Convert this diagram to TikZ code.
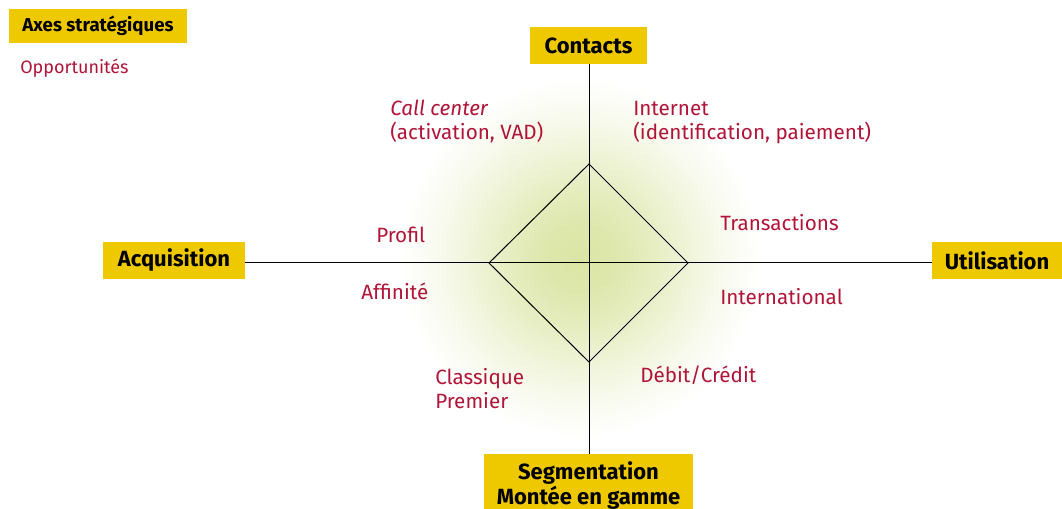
\documentclass[tikz,border=0pt]{standalone}
\usepackage{fontspec}
\setmainfont{Fira Sans}
\definecolor{boxyellow}{RGB}{239,201,0}
\definecolor{oppred}{RGB}{176,20,56}
\definecolor{glowc}{RGB}{218,229,164}
% soft radial glow, fading to white at the rim of the shaded circle
\pgfdeclareradialshading{softglow}{\pgfpoint{0bp}{0bp}}{%
  color(0bp)=(glowc); color(5bp)=(glowc!90!white); color(10bp)=(glowc!68!white);
  color(15bp)=(glowc!42!white); color(20bp)=(glowc!18!white);
  color(25bp)=(white); color(50bp)=(white)}
\begin{document}
\begin{tikzpicture}[x=0.75pt,y=-0.75pt,
  axisbox/.style={fill=boxyellow,inner sep=0pt,align=center,
    font=\fontsize{16.5pt}{19pt}\selectfont\bfseries,text=black},
  opp/.style={anchor=base west,inner sep=0pt,align=left,text=oppred,
    font=\fontsize{15.5pt}{18pt}\selectfont},
  axisline/.style={draw=black,line width=0.75pt},
  diamondline/.style={draw=black,line width=0.75pt,line join=miter}]
\useasboundingbox (0,0) rectangle (1062,509);
% soft glow behind the diamond
\shade[shading=softglow] (580,258) circle (180);
% legend
\node[axisbox,minimum width=178*0.75pt,minimum height=34*0.75pt,
  font=\fontsize{14pt}{16pt}\selectfont\bfseries] (legend) at (98,26) {Axes stratégiques};
\node[opp,font=\fontsize{13.5pt}{16pt}\selectfont] (opps) at (20,74) {Opportunités};
% the four axes
\node[axisbox,minimum width=117*0.75pt,minimum height=37*0.75pt] (contacts) at (588.5,45.5) {Contacts};
\node[axisbox,minimum width=142*0.75pt,minimum height=37*0.75pt] (acq) at (174,260.5) {Acquisition};
\node[axisbox,minimum width=130*0.75pt,minimum height=37*0.75pt] (util) at (997,260.5) {Utilisation};
\node[axisbox,minimum width=209*0.75pt,minimum height=63*0.75pt] (segm) at (588.5,485.5) {Segmentation\\Montée en gamme};
\coordinate (o) at (589,263);
\draw[axisline] (contacts.south -| o) -- (segm.north -| o);
\draw[axisline] (acq.east |- o) -- (util.west |- o);
% diamond
\coordinate (dt) at (589,164);
\coordinate (dr) at (688,263);
\coordinate (db) at (589,362);
\coordinate (dl) at (489,263);
\draw[diamondline] (dt) -- (dr) -- (db) -- (dl) -- cycle;
% opportunities
\node[opp] (callc) at (390,140) {\itshape Call center\\(activation, VAD)};
\node[opp] (inet) at (633,140) {Internet\\(identification, paiement)};
\node[opp] (trans) at (720,231) {Transactions};
\node[opp] (intl) at (720,304) {International};
\node[opp] (prof) at (376,243) {Profil};
\node[opp] (aff) at (361,300) {Affinité};
\node[opp] (class) at (435,408) {Classique\\Premier};
\node[opp] (debit) at (640,382) {Débit/Crédit};
\end{tikzpicture}
\end{document}
